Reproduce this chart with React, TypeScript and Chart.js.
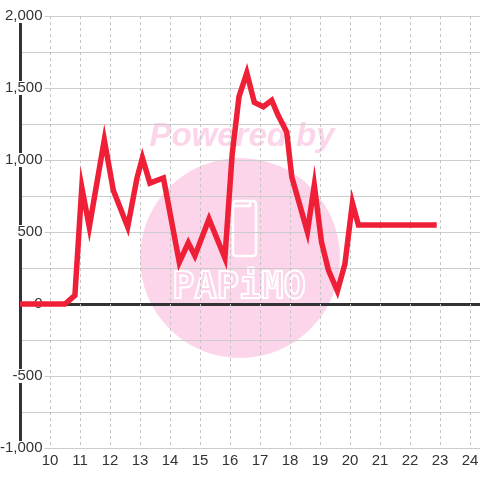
import React, { useEffect, useRef } from 'react';
import { Chart, registerables } from 'chart.js';

Chart.register(...registerables);

// Time of day (hours) and value
const hours = [8.5, 10.5, 10.83, 11.06, 11.31, 11.81, 12.11, 12.59, 12.9, 13.08, 13.33, 13.78, 14.31, 14.61, 14.83, 15.3, 15.83, 16.07, 16.3, 16.56, 16.81, 17.11, 17.39, 17.6, 17.89, 18.06, 18.58, 18.81, 19.05, 19.28, 19.58, 19.83, 20.08, 20.28, 22.89];
const values = [0, 0, 60, 810, 535, 1140, 790, 535, 875, 1015, 840, 875, 290, 425, 335, 590, 320, 1035, 1440, 1605, 1400, 1370, 1415, 1312, 1194, 882, 500, 826, 430, 236, 90, 278, 701, 548, 548];

const xTickValues = [10, 11, 12, 13, 14, 15, 16, 17, 18, 19, 20, 21, 22, 23, 24];
const xTickLabels = ['10', '11', '12', '13', '14', '15', '16', '17', '18', '19', '20', '21', '22', '23', '24'];
const yTickValues = [-1000, -500, 0, 500, 1000, 1500, 2000];
const yTickLabels = ['-1,000', '-500', '0', '500', '1,000', '1,500', '2,000'];

const FONT = '"Liberation Sans", Arial, sans-serif';

const watermark = {
  id: 'watermark',
  beforeDraw(chart: any) {
    const ctx = chart.ctx as CanvasRenderingContext2D;
    ctx.save();
    ctx.fillStyle = '#fcd5ea';
    ctx.beginPath();
    ctx.arc(240, 258, 100, 0, Math.PI * 2);
    ctx.fill();
    ctx.font = 'italic bold 33px ' + FONT;
    ctx.textAlign = 'center';
    ctx.textBaseline = 'alphabetic';
    ctx.fillText('Powered by', 242, 146);
    ctx.strokeStyle = '#ffffff';
    ctx.lineWidth = 2.5;
    ctx.beginPath();
    (ctx as any).roundRect(233, 201, 23, 55, 3);
    ctx.stroke();
    ctx.beginPath();
    ctx.moveTo(233, 206);
    ctx.lineTo(250, 206);
    ctx.lineTo(250, 201);
    ctx.stroke();
    ctx.font = 'bold 37px "DejaVu Sans Mono", monospace';
    ctx.lineWidth = 2;
    ctx.strokeText('PAPiMO', 239, 298);
    ctx.restore();
  },
};

export default function App() {
  const ref = useRef<HTMLCanvasElement>(null);
  useEffect(() => {
    document.body.style.margin = '0';
    if (!ref.current) return;
    const chart = new Chart(ref.current, {
      type: 'line',
      data: {
        datasets: [
          {
            data: hours.map((h, i) => ({ x: h, y: values[i] })),
            borderColor: '#ee1f36',
            borderWidth: 5.5,
            pointRadius: 0,
            fill: false,
            tension: 0,
            borderJoinStyle: 'miter',
            borderCapStyle: 'butt',
          },
        ],
      },
      options: {
        responsive: false,
        animation: false,
        layout: { padding: { left: 20, right: 0, top: 16, bottom: 6 } },
        plugins: { legend: { display: false }, tooltip: { enabled: false } },
        scales: {
          x: {
            type: 'linear',
            min: 9,
            max: 24.333,
            ticks: {
              stepSize: 1,
              includeBounds: false,
              autoSkip: false,
              maxRotation: 0,
              color: '#333',
              padding: 0,
              font: { size: 15, family: FONT, lineHeight: 1.7333 },
              callback: (v: any) => {
                const i = xTickValues.indexOf(Number(v));
                return i >= 0 ? xTickLabels[i] : '';
              },
            },
            grid: {
              z: 0,
              color: (c: any) => (c.tick && c.tick.value === 9 ? '#333333' : '#c4c4c4'),
              lineWidth: (c: any) => (c.tick && c.tick.value === 9 ? 3 : 1),
              drawTicks: false,
            },
            border: {
              display: false,
              dash: (c: any) => (c.tick && c.tick.value === 9 ? [] : [3, 3]),
            },
          },
          y: {
            min: -1000,
            max: 2000,
            ticks: {
              stepSize: 250,
              mirror: true,
              crossAlign: 'far',
              padding: -6.667,
              color: '#333',
              font: { size: 15, family: FONT },
              showLabelBackdrop: (c: any) => yTickValues.indexOf(c.tick?.value) >= 0,
              backdropColor: '#ffffff',
              backdropPadding: { x: 2, y: -2 },
              callback: (v: any) => {
                const i = yTickValues.indexOf(Number(v));
                return i >= 0 ? yTickLabels[i] : '';
              },
            },
            grid: {
              color: (c: any) => (c.tick && c.tick.value === 0 ? '#333333' : '#cccccc'),
              lineWidth: (c: any) => (c.tick && c.tick.value === 0 ? 3 : 1),
              drawTicks: false,
            },
            border: { display: false },
          },
        },
      } as any,
      plugins: [watermark],
    });
    return () => chart.destroy();
  }, []);
  return (
    <div style={{ width: 480, height: 480 }}>
      <canvas ref={ref} width={480} height={480} style={{ display: 'block' }} />
    </div>
  );
}
